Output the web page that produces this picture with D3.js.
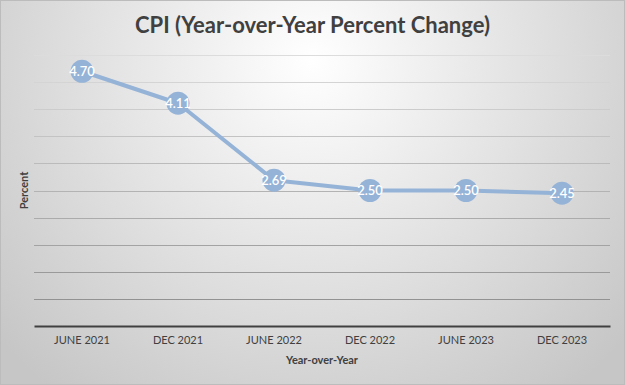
<!DOCTYPE html>
<html>
<head>
<meta charset="utf-8">
<script src="https://cdn.jsdelivr.net/npm/d3@7"></script>
<style>
  body { margin: 0; }
  svg { display: block; }
</style>
</head>
<body>
<div id="vis"></div>
<script>
const periods = ["JUNE 2021", "DEC 2021", "JUNE 2022", "DEC 2022", "JUNE 2023", "DEC 2023"];
const cpiValues = [4.70, 4.11, 2.69, 2.50, 2.50, 2.45];
const gridTicks = [0, 0.5, 1, 1.5, 2, 2.5, 3, 3.5, 4, 4.5, 5];

const width = 625, height = 385;
const margin = { top: 55, right: 15, bottom: 59, left: 34 };

const svg = d3.select("#vis").append("svg")
    .attr("width", width)
    .attr("height", height);

// background gradient
const defs = svg.append("defs");
const grad = defs.append("radialGradient")
    .attr("id", "bg")
    .attr("gradientUnits", "userSpaceOnUse")
    .attr("cx", 312).attr("cy", 60)
    .attr("r", 420);
grad.append("stop").attr("offset", "0%").attr("stop-color", "#ffffff");
grad.append("stop").attr("offset", "100%").attr("stop-color", "#c6c6c6");

svg.append("rect")
    .attr("x", 0.5).attr("y", 0.5)
    .attr("width", width - 1).attr("height", height - 1)
    .attr("fill", "url(#bg)")
    .attr("stroke", "#bcbcbc");

const x = d3.scaleBand()
    .domain(periods)
    .range([margin.left, width - margin.right]);

const y = d3.scaleLinear()
    .domain([0, 5])
    .range([height - margin.bottom, margin.top]);

// gridlines, lighter toward the top
const gridColor = d3.scaleLinear().domain([5, 0]).range(["#dcdcdc", "#8a8a8a"]);
svg.append("g")
    .selectAll("line")
    .data(gridTicks.filter(d => d > 0))
    .join("line")
    .attr("x1", margin.left)
    .attr("x2", width - margin.right)
    .attr("y1", d => Math.round(y(d)) + 0.5)
    .attr("y2", d => Math.round(y(d)) + 0.5)
    .attr("stroke", d => gridColor(d))
    .attr("stroke-width", 1);

// x axis
const xAxis = svg.append("g")
    .attr("transform", `translate(0,${y(0)})`)
    .call(d3.axisBottom(x).tickSize(0).tickPadding(10));
xAxis.select(".domain")
    .attr("stroke", "#404040")
    .attr("stroke-width", 2);
xAxis.selectAll("text")
    .attr("font-family", "Lato, 'Open Sans', sans-serif")
    .attr("font-size", 11)
    .attr("fill", "#404040");

// title
svg.append("text")
    .attr("x", width / 2)
    .attr("y", 33)
    .attr("text-anchor", "middle")
    .attr("font-family", "Lato, 'Open Sans', sans-serif")
    .attr("font-weight", "bold")
    .attr("font-size", 22)
    .attr("fill", "#404040")
    .text("CPI (Year-over-Year Percent Change)");

// axis titles
svg.append("text")
    .attr("x", (margin.left + width - margin.right) / 2)
    .attr("y", 364)
    .attr("text-anchor", "middle")
    .attr("font-family", "Lato, 'Open Sans', sans-serif")
    .attr("font-weight", "bold")
    .attr("font-size", 11)
    .attr("fill", "#404040")
    .text("Year-over-Year");

svg.append("text")
    .attr("transform", `translate(28,${(y(0) + y(5)) / 2}) rotate(-90)`)
    .attr("text-anchor", "middle")
    .attr("font-family", "Lato, 'Open Sans', sans-serif")
    .attr("font-weight", "bold")
    .attr("font-size", 11)
    .attr("fill", "#404040")
    .text("Percent");

// line
const line = d3.line()
    .x((d, i) => x(periods[i]) + x.bandwidth() / 2)
    .y(d => y(d));

svg.append("path")
    .datum(cpiValues)
    .attr("d", line)
    .attr("fill", "none")
    .attr("stroke", "#95b3d7")
    .attr("stroke-width", 4)
    .attr("stroke-linejoin", "round");

const pts = svg.append("g")
    .selectAll("g")
    .data(cpiValues)
    .join("g")
    .attr("transform", (d, i) => `translate(${x(periods[i]) + x.bandwidth() / 2},${y(d)})`);

pts.append("circle")
    .attr("r", 11.5)
    .attr("fill", "#95b3d7");

pts.append("text")
    .attr("text-anchor", "middle")
    .attr("dy", "0.36em")
    .attr("font-family", "Lato, 'Open Sans', sans-serif")
    .attr("font-size", 13)
    .attr("font-weight", 600)
    .attr("fill", "#ffffff")
    .text(d => d.toFixed(2));
</script>
</body>
</html>
